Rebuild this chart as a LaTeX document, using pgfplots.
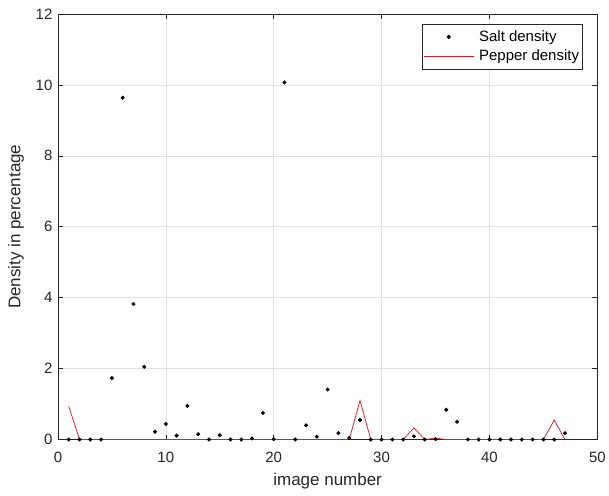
\documentclass[border=0pt]{standalone}
\usepackage{fontspec}
\setmainfont{Liberation Sans}
\usepackage{pgfplots}
\pgfplotsset{compat=1.18}

\definecolor{axgray}{RGB}{38,38,38}
\definecolor{gridgray}{RGB}{225,225,225}
\definecolor{pepperred}{RGB}{220,30,40}

\pgfplotsset{
    saltlegend/.style={legend image code/.code={\draw[mark repeat=2, mark phase=2, ##1]
        plot coordinates {(0pt,0pt) (25pt,0pt) (50pt,0pt)};}},
    pepperlegend/.style={legend image code/.code={\draw[##1] (0pt,0pt) -- (50pt,0pt);}},
}

\begin{document}
\begin{tikzpicture}
    % fix page size to the reference (1px = 1pt)
    \path (-58pt,-56pt) rectangle (551pt,440pt);
    \begin{axis}[
        at={(0pt,0pt)}, anchor=south west,
        scale only axis,
        width=540pt, height=426pt,
        xmin=0, xmax=50, ymin=0, ymax=12,
        xtick={0,10,...,50}, ytick={0,2,...,12},
        grid=major,
        major grid style={gridgray, line width=0.6pt},
        axis line style={axgray, line width=0.6pt},
        tick style={axgray, line width=0.6pt},
        tick align=inside, major tick length=5pt,
        ticklabel style={font=\fontsize{15}{18}\selectfont, text=axgray},
        /pgf/number format/assume math mode=true,
        xticklabel style={yshift=-9pt},
        yticklabel style={xshift=-2pt},
        xlabel={image number},
        ylabel={Density in percentage},
        every axis x label/.style={at={(rel axis cs:0.5,0)}, anchor=center, yshift=-42pt,
            font=\fontsize{17}{20}\selectfont, text=axgray},
        every axis y label/.style={at={(rel axis cs:0,0.5)}, anchor=center, xshift=-42pt, rotate=90,
            font=\fontsize{17}{20}\selectfont, text=axgray},
        legend cell align=left,
        legend style={at={(rel axis cs:1,1)}, anchor=north east,
            xshift=-15pt, yshift=-10pt,
            draw=axgray, line width=0.6pt, fill=white,
            inner xsep=1pt, inner ysep=3pt, row sep=0pt, column sep=3pt,
            font=\fontsize{15}{18}\selectfont,
            nodes={inner ysep=3.5pt, inner xsep=2pt, text=black}},
    ]

        % --- Salt density ---
        \addplot[only marks, mark=*, mark size=1.8pt, color=black, saltlegend]
        coordinates {
            (1,0) (2,0) (3,0) (4,0) (5,1.73) (6,9.64) (7,3.82) (8,2.05)
            (9,0.22) (10,0.44) (11,0.11) (12,0.95) (13,0.15) (14,0) (15,0.12)
            (16,0) (17,0) (18,0.03) (19,0.75) (20,0.01) (21,10.07) (22,0)
            (23,0.40) (24,0.08) (25,1.41) (26,0.18) (27,0.04) (28,0.55) (29,0)
            (30,0) (31,0) (32,0) (33,0.09) (34,0) (35,0.01) (36,0.84) (37,0.50)
            (38,0) (39,0) (40,0) (41,0) (42,0) (43,0) (44,0) (45,0) (46,0) (47,0.18)
        };
        \addlegendentry{Salt density}

        % --- Pepper density ---
        \addplot[color=pepperred, line width=0.75pt, mark=none, pepperlegend]
        coordinates {
            (1,0.94) (2,0) (3,0) (4,0) (5,0) (6,0) (7,0) (8,0) (9,0) (10,0)
            (11,0) (12,0) (13,0) (14,0) (15,0) (16,0) (17,0) (18,0) (19,0) (20,0)
            (21,0) (22,0) (23,0) (24,0) (25,0) (26,0) (27,0) (28,1.10) (29,0)
            (30,0) (31,0) (32,0) (33,0.33) (34,0) (35,0.04) (36,0) (37,0) (38,0)
            (39,0) (40,0) (41,0) (42,0) (43,0) (44,0) (45,0) (46,0.55) (47,0)
        };
        \addlegendentry{Pepper density}

    \end{axis}
\end{tikzpicture}
\end{document}
